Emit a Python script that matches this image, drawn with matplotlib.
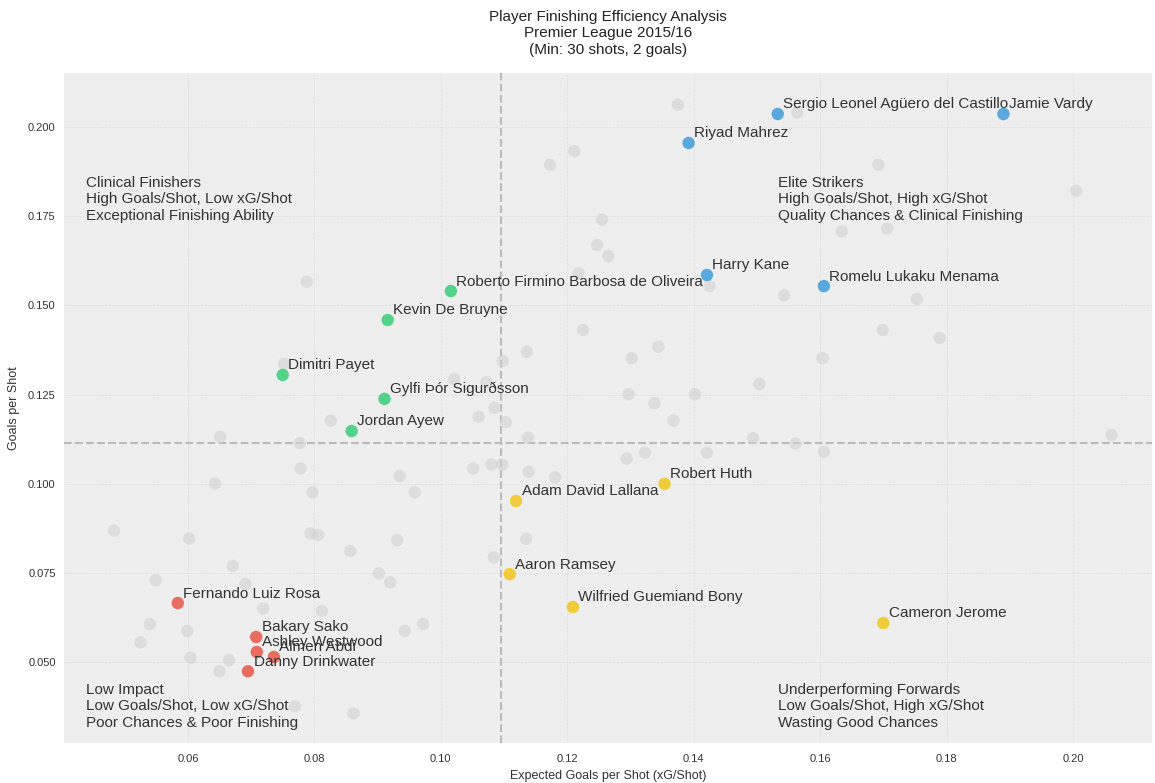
import matplotlib.pyplot as plt

plt.rcParams['font.family'] = ['Liberation Sans', 'DejaVu Sans']

# highlighted players per quadrant
elite_names = ["Sergio Leonel Agüero del Castillo", "Jamie Vardy", "Riyad Mahrez",
               "Harry Kane", "Romelu Lukaku Menama"]
elite_xg = [0.1533, 0.1890, 0.1392, 0.1421, 0.1606]
elite_gps = [0.2036, 0.2036, 0.1955, 0.1585, 0.1554]

clinical_names = ["Roberto Firmino Barbosa de Oliveira", "Kevin De Bruyne", "Dimitri Payet",
                  "Gylfi Þór Sigurðsson", "Jordan Ayew"]
clinical_xg = [0.1016, 0.0916, 0.0750, 0.0911, 0.0859]
clinical_gps = [0.1540, 0.1459, 0.1305, 0.1238, 0.1148]

under_names = ["Robert Huth", "Adam David Lallana", "Aaron Ramsey",
               "Wilfried Guemiand Bony", "Cameron Jerome"]
under_xg = [0.1354, 0.1119, 0.1109, 0.1209, 0.1700]
under_gps = [0.1000, 0.0952, 0.0747, 0.0655, 0.0610]

low_names = ["Fernando Luiz Rosa", "Bakary Sako", "Ashley Westwood",
             "Almen Abdi", "Danny Drinkwater"]
low_xg = [0.0584, 0.0708, 0.0709, 0.0736, 0.0695]
low_gps = [0.0666, 0.0571, 0.0529, 0.0515, 0.0475]

# all other qualifying players
other_xg = [0.0788, 0.0752, 0.1021, 0.1072, 0.1098, 0.1085, 0.1060, 0.1103, 0.0826, 0.0651,
            0.0777, 0.1375, 0.1564, 0.1211, 0.1173, 0.1692, 0.1255, 0.1247, 0.1265, 0.1634,
            0.1706, 0.1218, 0.1425, 0.1543, 0.1699, 0.1225, 0.1344, 0.1136, 0.1302, 0.1604,
            0.1504, 0.1297, 0.1402, 0.1338, 0.1368, 0.1138, 0.1494, 0.1561, 0.1606, 0.1294,
            0.1323, 0.1421, 0.1139, 0.1181, 0.1135, 0.1084, 0.1097, 0.1080, 0.2005, 0.1753,
            0.1789, 0.2061, 0.0778, 0.0935, 0.0643, 0.0797, 0.0959, 0.1051, 0.0483, 0.0602,
            0.0794, 0.0806, 0.0931, 0.0671, 0.0857, 0.0549, 0.0691, 0.0902, 0.0920, 0.0719,
            0.0812, 0.0540, 0.0599, 0.0525, 0.0972, 0.0943, 0.0604, 0.0665, 0.0650, 0.0769,
            0.0862]
other_gps = [0.1566, 0.1336, 0.1294, 0.1285, 0.1344, 0.1213, 0.1188, 0.1173, 0.1177, 0.1132,
             0.1114, 0.2062, 0.2040, 0.1932, 0.1894, 0.1894, 0.1740, 0.1669, 0.1638, 0.1707,
             0.1715, 0.1590, 0.1554, 0.1528, 0.1431, 0.1431, 0.1384, 0.1370, 0.1352, 0.1352,
             0.1280, 0.1251, 0.1251, 0.1226, 0.1177, 0.1129, 0.1128, 0.1113, 0.1090, 0.1071,
             0.1087, 0.1087, 0.1034, 0.1018, 0.0846, 0.0794, 0.1054, 0.1054, 0.1821, 0.1518,
             0.1409, 0.1137, 0.1043, 0.1022, 0.1001, 0.0976, 0.0976, 0.1043, 0.0869, 0.0847,
             0.0861, 0.0857, 0.0842, 0.0770, 0.0812, 0.0730, 0.0719, 0.0749, 0.0724, 0.0651,
             0.0644, 0.0607, 0.0588, 0.0556, 0.0607, 0.0588, 0.0513, 0.0506, 0.0475, 0.0377,
             0.0357]

# median split lines
xg_median = 0.1096
gps_median = 0.1114

quadrant_texts = [
    "Clinical Finishers\nHigh Goals/Shot, Low xG/Shot\nExceptional Finishing Ability",
    "Elite Strikers\nHigh Goals/Shot, High xG/Shot\nQuality Chances & Clinical Finishing",
    "Low Impact\nLow Goals/Shot, Low xG/Shot\nPoor Chances & Poor Finishing",
    "Underperforming Forwards\nLow Goals/Shot, High xG/Shot\nWasting Good Chances",
]

fig = plt.figure(figsize=(11.55, 7.83), dpi=100)
ax = fig.add_axes([0.0554, 0.0511, 0.9420, 0.8557])
ax.set_facecolor('#eeeeee')
for s in ax.spines.values():
    s.set_visible(False)

ax.scatter(other_xg, other_gps, s=80, color='#d3d3d3', alpha=0.6, edgecolors='none', zorder=2)

groups = [
    (elite_names, elite_xg, elite_gps, '#3498db'),
    (clinical_names, clinical_xg, clinical_gps, '#2ecc71'),
    (under_names, under_xg, under_gps, '#f1c40f'),
    (low_names, low_xg, low_gps, '#e74c3c'),
]
for names, xs, ys, col in groups:
    ax.scatter(xs, ys, s=80, color=col, alpha=0.8, edgecolors='none', zorder=3)
    for n, x, y in zip(names, xs, ys):
        ax.annotate(n, (x, y), xytext=(4, 4), textcoords='offset points',
                    fontsize=11, color='#333333', zorder=4)

ax.axvline(xg_median, color='#bbbbbb', linestyle='--', linewidth=1.5, zorder=1)
ax.axhline(gps_median, color='#bbbbbb', linestyle='--', linewidth=1.5, zorder=1)

kw = dict(transform=ax.transAxes, fontsize=11, color='#333333')
ax.text(0.02, 0.846, quadrant_texts[0], va='top', **kw)
ax.text(0.656, 0.846, quadrant_texts[1], va='top', **kw)
ax.text(0.02, 0.02, quadrant_texts[2], va='bottom', **kw)
ax.text(0.656, 0.02, quadrant_texts[3], va='bottom', **kw)

ax.set_xlim(0.0404, 0.2125)
ax.set_ylim(0.0274, 0.2151)
ax.grid(True, color='#b2b2b2', linestyle='--', linewidth=0.5, alpha=0.25, zorder=0)
ax.set_axisbelow(True)
ax.tick_params(axis='x', length=0, labelsize=8, colors='#333333', pad=8)
ax.tick_params(axis='y', length=0, labelsize=8, colors='#333333', pad=6)
ax.set_xlabel("Expected Goals per Shot (xG/Shot)", fontsize=9, color='#333333')
ax.set_ylabel("Goals per Shot", fontsize=9, color='#333333', labelpad=6)
ax.set_title("Player Finishing Efficiency Analysis\nPremier League 2015/16\n(Min: 30 shots, 2 goals)",
             fontsize=11, color='#222222', pad=14)

fig.savefig('out.png', dpi=100)
